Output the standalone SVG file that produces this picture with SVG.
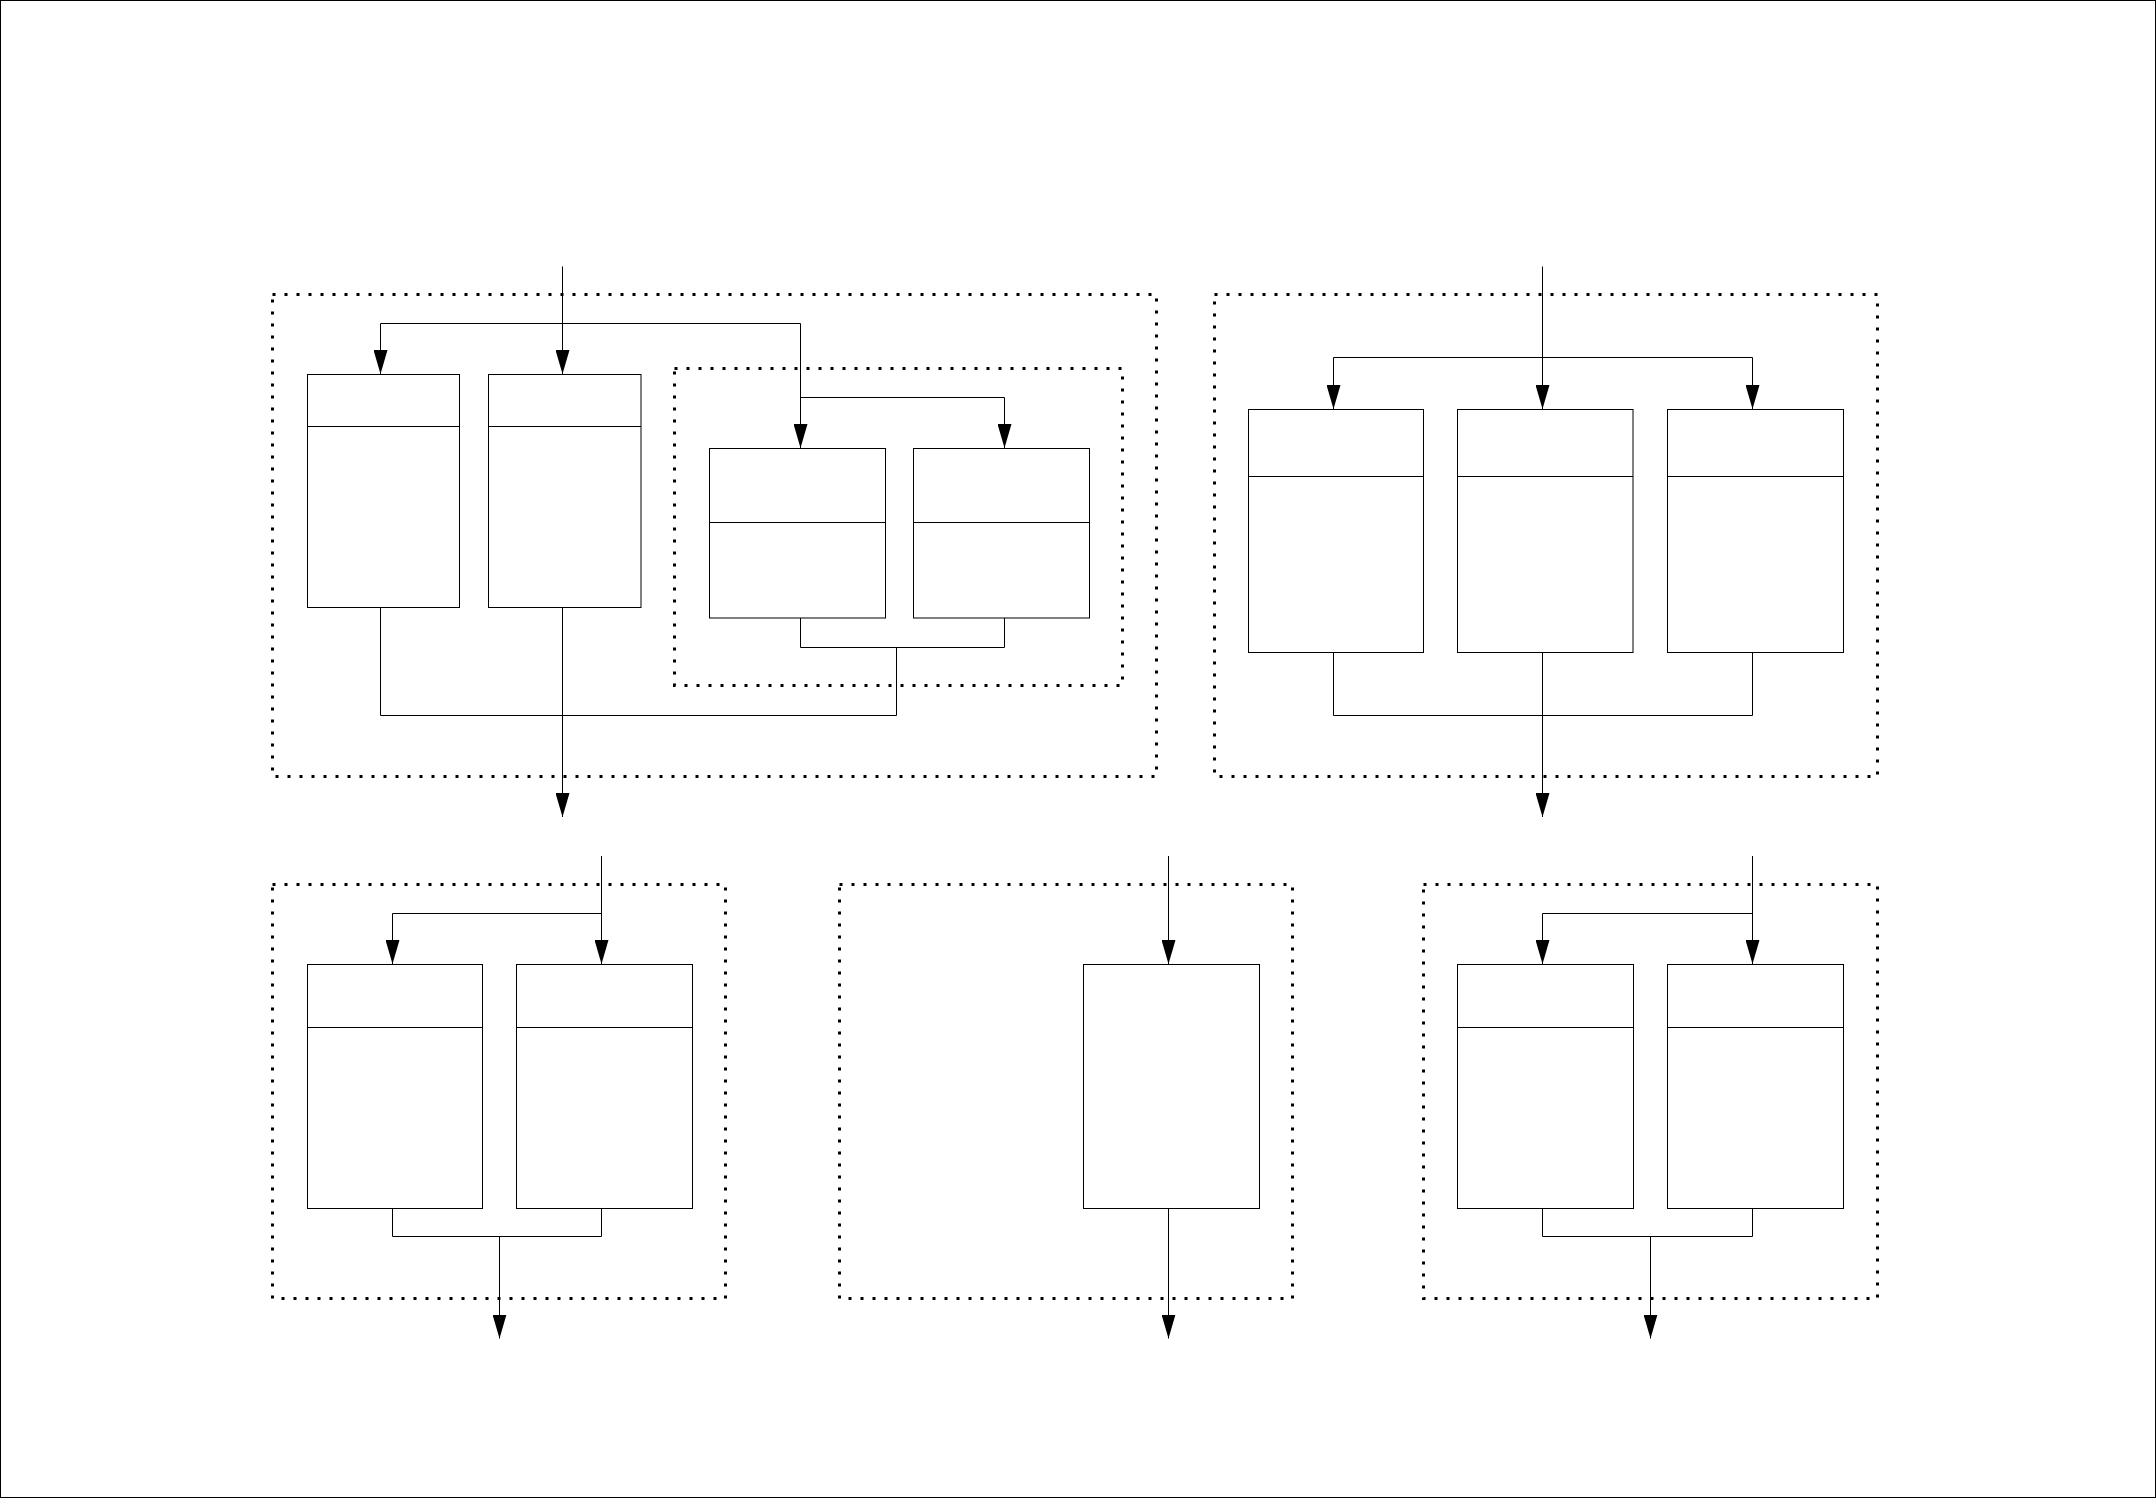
<svg xmlns="http://www.w3.org/2000/svg" width="2156" height="1498" viewBox="0 0 2156 1498">
<style>
.frame{fill:#fff;stroke:#000;stroke-width:1}
.grp{fill:none;stroke:#000;stroke-width:3;stroke-dasharray:3 9}
.box{fill:#fff;stroke:#000;stroke-width:1}
.div{stroke:#000;stroke-width:1}
.c{fill:none;stroke:#000;stroke-width:1}
.a{fill:none;stroke:#000;stroke-width:1;marker-end:url(#arr)}
</style>
<defs>
<marker id="arr" markerUnits="userSpaceOnUse" markerWidth="24" markerHeight="14" viewBox="0 0 24 14" refX="24" refY="7" orient="auto">
<path d="M0,0 L24,7 L0,14 z" fill="#000"/>
</marker>
</defs>
<rect class="frame" x="0.5" y="0.5" width="2155" height="1497"/>

<g id="group-top-left"><rect class="grp" x="272.5" y="294.5" width="884" height="482"/></g>
<g id="group-top-left-inner"><rect class="grp" x="674.5" y="368.5" width="448" height="317"/></g>
<g id="group-top-right"><rect class="grp" x="1214.5" y="294.5" width="663" height="482"/></g>
<g id="group-bottom-left"><rect class="grp" x="272.5" y="884.5" width="453" height="414"/></g>
<g id="group-bottom-middle"><rect class="grp" x="839.5" y="884.5" width="453" height="414"/></g>
<g id="group-bottom-right"><rect class="grp" x="1423.5" y="884.5" width="454" height="414"/></g>

<g id="A1"><rect class="box" x="307.5" y="374.5" width="152" height="233"/><line class="div" x1="307.5" y1="426.5" x2="459.5" y2="426.5"/></g>
<g id="A2"><rect class="box" x="488.5" y="374.5" width="152.5" height="233"/><line class="div" x1="488.5" y1="426.5" x2="641" y2="426.5"/></g>
<g id="B1"><rect class="box" x="709.5" y="448.5" width="176" height="169.5"/><line class="div" x1="709.5" y1="522.5" x2="885.5" y2="522.5"/></g>
<g id="B2"><rect class="box" x="913.5" y="448.5" width="176" height="169.5"/><line class="div" x1="913.5" y1="522.5" x2="1089.5" y2="522.5"/></g>
<g id="C1"><rect class="box" x="1248.5" y="409.5" width="175" height="243"/><line class="div" x1="1248.5" y1="476.5" x2="1423.5" y2="476.5"/></g>
<g id="C2"><rect class="box" x="1457.5" y="409.5" width="175.5" height="243"/><line class="div" x1="1457.5" y1="476.5" x2="1633" y2="476.5"/></g>
<g id="C3"><rect class="box" x="1667.5" y="409.5" width="176" height="243"/><line class="div" x1="1667.5" y1="476.5" x2="1843.5" y2="476.5"/></g>
<g id="D1"><rect class="box" x="307.5" y="964.5" width="175" height="244"/><line class="div" x1="307.5" y1="1027.5" x2="482.5" y2="1027.5"/></g>
<g id="D2"><rect class="box" x="516.5" y="964.5" width="176" height="244"/><line class="div" x1="516.5" y1="1027.5" x2="692.5" y2="1027.5"/></g>
<g id="E1"><rect class="box" x="1083.5" y="964.5" width="176" height="244"/></g>
<g id="F1"><rect class="box" x="1457.5" y="964.5" width="176" height="244"/><line class="div" x1="1457.5" y1="1027.5" x2="1633.5" y2="1027.5"/></g>
<g id="F2"><rect class="box" x="1667.5" y="964.5" width="176" height="244"/><line class="div" x1="1667.5" y1="1027.5" x2="1843.5" y2="1027.5"/></g>

<g id="connectors">
<path class="a" d="M562.5,266.5 V374"/>
<path class="c" d="M380.5,323.5 H800.5"/>
<path class="a" d="M380.5,323.5 V374"/>
<path class="a" d="M800.5,323.5 V448"/>
<path class="c" d="M800.5,397.5 H1004.5"/>
<path class="a" d="M1004.5,397.5 V448"/>
<path class="c" d="M800.5,618 V647.5 H1004.5 V618"/>
<path class="c" d="M896.5,647.5 V715.5"/>
<path class="c" d="M380.5,607.5 V715.5 H896.5"/>
<path class="a" d="M562.5,607.5 V817"/>

<path class="a" d="M1542.5,266.5 V409"/>
<path class="c" d="M1333.5,357.5 H1752.5"/>
<path class="a" d="M1333.5,357.5 V409"/>
<path class="a" d="M1752.5,357.5 V409"/>
<path class="c" d="M1333.5,652.5 V715.5 H1752.5 V652.5"/>
<path class="a" d="M1542.5,652.5 V817"/>

<path class="a" d="M601.5,856 V964"/>
<path class="c" d="M601.5,913.5 H392.5"/>
<path class="a" d="M392.5,913.5 V964"/>
<path class="c" d="M392.5,1208.5 V1236.5 H601.5 V1208.5"/>
<path class="a" d="M499.5,1236.5 V1338.5"/>

<path class="a" d="M1168.5,856 V964"/>
<path class="a" d="M1168.5,1208.5 V1338.5"/>

<path class="a" d="M1752.5,856 V964"/>
<path class="c" d="M1752.5,913.5 H1542.5"/>
<path class="a" d="M1542.5,913.5 V964"/>
<path class="c" d="M1542.5,1208.5 V1236.5 H1752.5 V1208.5"/>
<path class="a" d="M1650.5,1236.5 V1338.5"/>
</g>
</svg>
